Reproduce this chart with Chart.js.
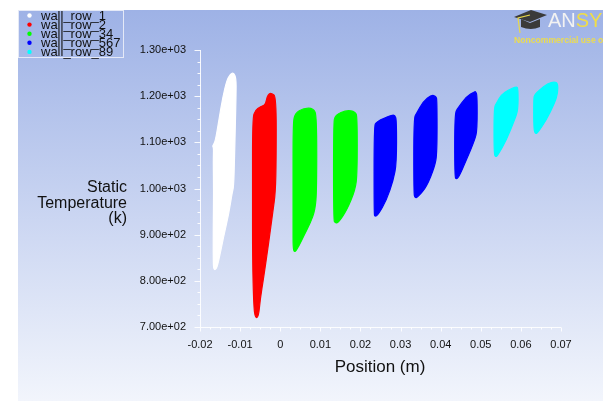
<!DOCTYPE html>
<html><head><meta charset="utf-8">
<script src="https://cdn.jsdelivr.net/npm/chart.js@4"></script>
<style>html,body{margin:0;padding:0;background:#fff}#wrap{width:607px;height:406px;position:relative}</style>
</head><body><div id="wrap"><canvas id="c" width="607" height="406"></canvas></div>
<script>
// ---- data (Position m, Static Temperature K) ----
const seriesNames = ['wall_row_1', 'wall_row_2', 'wall_row_34', 'wall_row_567', 'wall_row_89'];
const seriesColors = ['#ffffff', '#ff0000', '#00ff00', '#0000ff', '#00ffff'];

// outline of each point cloud: [position, temperature]
const row1 = [[-0.0116,1251],[-0.0110,1239],[-0.0110,1206],[-0.0112,1134],[-0.0114,1062],[-0.0116,1004],[-0.0120,990],[-0.0128,946],[-0.0141,896],[-0.0153,845],[-0.0159,825],[-0.0166,824],[-0.0167,845],[-0.0167,917],[-0.0166,990],[-0.0167,1062],[-0.0166,1088],[-0.0169,1092],[-0.0162,1101],[-0.0153,1148],[-0.0143,1199],[-0.0133,1235],[-0.0124,1248]];
const row2 = [[-0.0027,1206],[-0.0021,1206],[-0.0010,1199],[-0.0010,1062],[-0.0012,990],[-0.0018,953],[-0.0029,881],[-0.0041,809],[-0.0050,759],[-0.0054,722],[-0.0062,719],[-0.0066,744],[-0.0069,845],[-0.0069,990],[-0.0069,1152],[-0.0062,1170],[-0.0050,1177],[-0.0037,1181],[-0.0033,1199]];
const row3 = [[0.0058,1174],[0.0083,1174],[0.0091,1156],[0.0091,997],[0.0087,953],[0.0075,925],[0.0058,896],[0.0046,874],[0.0035,860],[0.0032,874],[0.0032,910],[0.0032,997],[0.0032,1141],[0.0037,1163]];
const row4 = [[0.0166,1170],[0.0187,1166],[0.0192,1156],[0.0192,1033],[0.0187,997],[0.0166,953],[0.0145,926],[0.0137,925],[0.0133,932],[0.0133,1141],[0.0137,1159]];
const row5 = [[0.0278,1159],[0.0286,1159],[0.0290,1148],[0.0290,1055],[0.0282,1018],[0.0265,975],[0.0244,943],[0.0236,939],[0.0234,946],[0.0234,1134],[0.0240,1145]];
const row6 = [[0.0377,1203],[0.0388,1200],[0.0391,1192],[0.0391,1076],[0.0385,1047],[0.0365,1004],[0.0344,982],[0.0336,979],[0.0333,990],[0.0333,1152],[0.0340,1163],[0.0356,1188]];
const row7 = [[0.0485,1210],[0.0487,1210],[0.0491,1203],[0.0491,1127],[0.0485,1105],[0.0464,1062],[0.0446,1026],[0.0439,1020],[0.0435,1026],[0.0435,1163],[0.0443,1174],[0.0464,1199]];
const row8 = [[0.0589,1221],[0.0593,1217],[0.0593,1170],[0.0584,1148],[0.0564,1105],[0.0543,1073],[0.0537,1068],[0.0533,1076],[0.0533,1174],[0.0539,1185],[0.0551,1203],[0.0568,1213]];
const row9 = [[0.0684,1231],[0.0692,1228],[0.0692,1206],[0.0684,1185],[0.0663,1148],[0.0642,1121],[0.0637,1118],[0.0632,1127],[0.0632,1195],[0.0634,1203],[0.0646,1213],[0.0667,1228]];

const seriesRows = [[row1], [row2], [row3, row4], [row5, row6, row7], [row8, row9]];

const xTicks = [-0.02, -0.01, 0, 0.01, 0.02, 0.03, 0.04, 0.05, 0.06, 0.07];
const yTicks = [700, 800, 900, 1000, 1100, 1200, 1300];
const xTitle = 'Position (m)';
const yTitleLines = ['Static', 'Temperature', '(k)'];

// ---- datasets ----
const datasets = [];
seriesRows.forEach((rows, i) => {
  rows.forEach(r => {
    datasets.push({
      label: seriesNames[i],
      data: r.map(([x, y]) => ({x, y})),
      blob: true,
      showLine: false,
      backgroundColor: seriesColors[i],
      borderColor: seriesColors[i],
      pointRadius: 0,
      pointHoverRadius: 0
    });
  });
});

const FONT = '"Liberation Sans", Arial, sans-serif';

const bgPlugin = {
  id: 'bg',
  beforeDraw(chart) {
    const ctx = chart.ctx;
    ctx.save();
    ctx.fillStyle = '#ffffff';
    ctx.fillRect(0, 0, chart.width, chart.height);
    const g = ctx.createLinearGradient(0, 10, 0, 401);
    g.addColorStop(0, 'rgb(158,178,230)');
    g.addColorStop(1, 'rgb(242,245,252)');
    ctx.fillStyle = g;
    ctx.fillRect(18, 10, 585, 391);
    ctx.restore();
  }
};

// fills each point cloud outline, using the pixel positions the library computed
const blobPlugin = {
  id: 'blobs',
  beforeDatasetDraw(chart, args) {
    const meta = args.meta;
    const ds = chart.data.datasets[args.index];
    if (!ds.blob) return;
    const pts = meta.data.map(p => ({x: p.x, y: p.y}));
    const n = pts.length;
    const ctx = chart.ctx;
    ctx.save();
    ctx.fillStyle = ds.backgroundColor;
    ctx.strokeStyle = ds.borderColor;
    ctx.lineWidth = 1.2;
    ctx.lineJoin = 'round';
    ctx.beginPath();
    const mid = (a, b) => ({x: (a.x + b.x) / 2, y: (a.y + b.y) / 2});
    const m0 = mid(pts[n - 1], pts[0]);
    ctx.moveTo(m0.x, m0.y);
    for (let i = 0; i < n; i++) {
      const p = pts[i], m = mid(p, pts[(i + 1) % n]);
      ctx.quadraticCurveTo(p.x, p.y, m.x, m.y);
    }
    ctx.closePath();
    ctx.fill();
    ctx.stroke();
    ctx.restore();
  }
};

const axesPlugin = {
  id: 'axesDraw',
  beforeDatasetsDraw(chart) {
    const ctx = chart.ctx;
    const xs = chart.scales.x, ys = chart.scales.y;
    const a = chart.chartArea;
    ctx.save();
    ctx.strokeStyle = 'rgba(255,255,255,0.9)';
    ctx.lineWidth = 1;
    ctx.beginPath();
    ctx.moveTo(a.left + 0.5, a.top);
    ctx.lineTo(a.left + 0.5, a.bottom + 0.5);
    ctx.lineTo(a.right, a.bottom + 0.5);
    for (let v = ys.min; v <= ys.max + 1e-9; v += 25) {
      const p = Math.round(ys.getPixelForValue(v)) + 0.5;
      const major = Math.abs(v % 100) < 1e-6;
      ctx.moveTo(a.left + 0.5, p);
      ctx.lineTo(a.left + 0.5 - (major ? 6 : 3), p);
    }
    for (let k = 0; k <= 36; k++) {
      const v = -0.02 + k * 0.0025;
      const p = Math.round(xs.getPixelForValue(v)) + 0.5;
      const major = k % 4 === 0;
      ctx.moveTo(p, a.bottom + 0.5);
      ctx.lineTo(p, a.bottom + 0.5 + (major ? 4 : 2));
    }
    ctx.stroke();
    ctx.restore();
  }
};

const textPlugin = {
  id: 'texts',
  afterDraw(chart) {
    const ctx = chart.ctx;
    ctx.save();
    ctx.fillStyle = '#111';
    ctx.font = '17px ' + FONT;
    ctx.textAlign = 'center';
    ctx.textBaseline = 'middle';
    ctx.fillText(xTitle, 380, 367);
    ctx.font = '16px ' + FONT;
    ctx.textAlign = 'right';
    yTitleLines.forEach((t, i) => ctx.fillText(t, 127, 188 + i * 15.5));

    // legend
    ctx.strokeStyle = 'rgba(235,238,248,0.9)';
    ctx.lineWidth = 1;
    ctx.strokeRect(18.5, 10.5, 105, 47);
    ctx.font = '13px ' + FONT;
    ctx.textAlign = 'left';
    seriesNames.forEach((n, i) => {
      const y = 15.5 + i * 9.1;
      ctx.fillStyle = seriesColors[i];
      ctx.beginPath();
      ctx.arc(29.5, y, 2.2, 0, Math.PI * 2);
      ctx.fill();
      ctx.fillStyle = '#111';
      ctx.fillText(n, 41, y + 0.5);
    });

    // logo (clipped to panel)
    ctx.beginPath();
    ctx.rect(18, 10, 585, 391);
    ctx.clip();
    ctx.fillStyle = '#3a3a3a';
    ctx.beginPath();
    ctx.moveTo(514, 17); ctx.lineTo(531, 10); ctx.lineTo(547, 15); ctx.lineTo(530, 22); ctx.closePath();
    ctx.fill();
    ctx.beginPath();
    ctx.moveTo(521, 19); ctx.lineTo(530, 23); ctx.lineTo(540, 19);
    ctx.lineTo(540, 27); ctx.quadraticCurveTo(531, 31, 521, 27); ctx.closePath();
    ctx.fill();
    ctx.strokeStyle = '#e8d84a';
    ctx.lineWidth = 1.2;
    ctx.beginPath();
    ctx.moveTo(530, 15); ctx.lineTo(518, 18); ctx.lineTo(520, 33);
    ctx.stroke();
    ctx.font = '20px ' + FONT;
    ctx.textBaseline = 'alphabetic';
    ctx.fillStyle = '#f2f2f2';
    ctx.fillText('AN', 548, 27);
    const w = ctx.measureText('AN').width;
    ctx.fillStyle = '#f0dd48';
    ctx.fillText('SYS', 548 + w, 27);
    ctx.font = 'bold 8.6px ' + FONT;
    ctx.fillStyle = '#ecdc50';
    ctx.fillText('Noncommercial use only', 514, 43);
    ctx.restore();
  }
};

const fmtY = v => v.toExponential(2).replace(/e\+(\d)$/, 'e+0$1');
const fmtX = v => (Math.abs(v) < 1e-9 ? '0' : String(+v.toFixed(2)));

new Chart(document.getElementById('c'), {
  type: 'scatter',
  data: { datasets },
  options: {
    responsive: false,
    animation: false,
    devicePixelRatio: 1,
    events: [],
    layout: { padding: { left: 0, top: 50, right: 46, bottom: 0 } },
    plugins: { legend: { display: false }, tooltip: { enabled: false } },
    scales: {
      x: {
        type: 'linear', min: -0.02, max: 0.07,
        afterBuildTicks: s => { s.ticks = xTicks.map(v => ({ value: v })); },
        ticks: { callback: fmtX, font: { family: FONT, size: 11 }, color: '#111', padding: 11, maxRotation: 0, autoSkip: false },
        grid: { display: false, drawTicks: false },
        border: { display: false },
        afterFit: s => { s.height = 79; }
      },
      y: {
        type: 'linear', min: 700, max: 1300,
        afterBuildTicks: s => { s.ticks = yTicks.map(v => ({ value: v })); },
        ticks: { callback: fmtY, font: { family: FONT, size: 11 }, color: '#111', padding: 14, autoSkip: false },
        grid: { display: false, drawTicks: false },
        border: { display: false },
        afterFit: s => { s.width = 200; }
      }
    }
  },
  plugins: [bgPlugin, axesPlugin, blobPlugin, textPlugin]
});
</script>
</body></html>
